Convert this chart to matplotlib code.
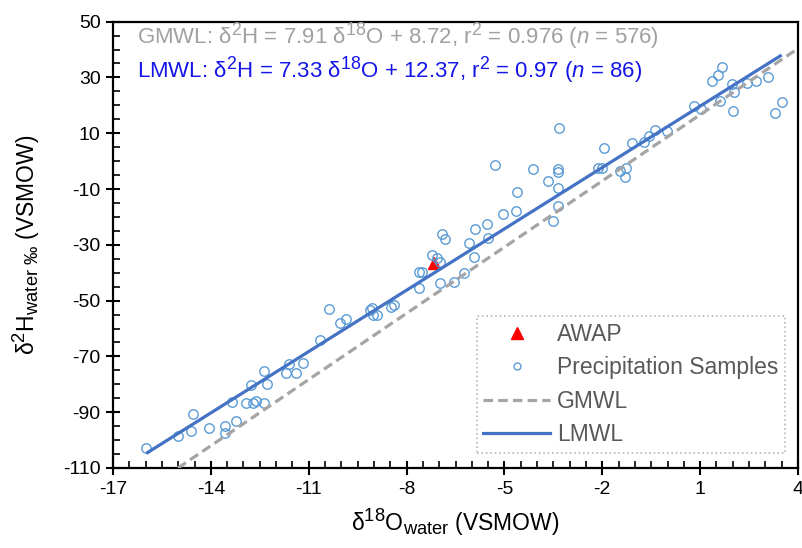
import matplotlib
matplotlib.use('Agg')
import matplotlib.pyplot as plt
import matplotlib._mathtext as _mt
from matplotlib.lines import Line2D
from matplotlib.ticker import MultipleLocator, FixedLocator
import numpy as np

# ---------------- data ----------------
precip_d18O = [-15.98, -15.01, -14.60, -14.55, -14.06, -13.56, -13.56, -13.22, -13.34, -12.91,
               -12.70, -12.62, -12.38, -12.78, -12.38, -12.28, -11.70, -11.60, -11.40, -11.17,
               -10.64, -10.38, -10.04, -9.86, -9.11, -9.06, -9.02, -8.92, -8.48, -8.40,
               -7.61, -6.97, -6.55, -7.61, -7.52, -7.21, -7.07, -6.99, -6.92, -6.83,
               -6.24, -6.10, -5.93, -5.89, -5.54, -5.50, -5.29, -5.05, -4.63, -4.60,
               -4.11, -3.66, -3.37, -3.37, -3.37, -3.37, -3.52, -3.34, -2.12, -2.02,
               -1.94, -1.46, -1.27, -1.29, -1.08, -0.73, -0.57, -0.38, -0.02, 0.80,
               1.03, 1.61, 2.02, 1.37, 1.54, 1.66, 1.99, 2.04, 2.44, 2.71,
               3.07, 3.28, 3.50]
precip_d2H = [-102.7, -98.4, -96.6, -90.8, -95.8, -94.8, -97.3, -93.2, -86.5, -86.8,
              -86.8, -85.9, -86.8, -80.3, -75.4, -79.9, -76.1, -72.7, -76.1, -72.2,
              -64.2, -53.0, -58.1, -56.6, -53.4, -52.7, -55.2, -55.2, -52.2, -51.4,
              -45.6, -43.8, -43.5, -39.9, -39.9, -33.7, -34.8, -36.3, -26.3, -27.9,
              -40.2, -29.2, -34.5, -24.4, -22.7, -27.6, -1.5, -19.1, -17.8, -11.0,
              -2.8, -7.2, -3.0, -3.9, -9.7, -16.2, -21.5, 12.0, -2.4, -2.4,
              4.6, -3.5, -2.3, -5.6, 6.4, 6.7, 9.1, 11.3, 10.7, 19.7,
              18.6, 21.5, 18.1, 28.7, 30.9, 33.8, 27.5, 24.9, 27.9, 28.8,
              30.0, 17.2, 21.2]
awap_d18O = [-7.16]
awap_d2H = [-36.4]

gmwl_slope, gmwl_intercept = 7.91, 8.72
lmwl_slope, lmwl_intercept = 7.33, 12.37

x_ticks = [-17, -14, -11, -8, -5, -2, 1, 4]
y_ticks = [-110, -90, -70, -50, -30, -10, 10, 30, 50]

legend_labels = ['AWAP', 'Precipitation Samples', 'GMWL', 'LMWL']
gmwl_text = r'GMWL: δ$^{2}$H = 7.91 δ$^{18}$O + 8.72, r$^{2}$ = 0.976 ($n$ = 576)'
lmwl_text = r'LMWL: δ$^{2}$H = 7.33 δ$^{18}$O + 12.37, r$^{2}$ = 0.97 ($n$ = 86)'

# ---------------- style ----------------
_mt.SHRINK_FACTOR = 0.8  # larger super/subscripts as in the reference
plt.rcParams['font.family'] = ['Liberation Sans', 'DejaVu Sans']
plt.rcParams['mathtext.fontset'] = 'custom'
plt.rcParams['mathtext.rm'] = 'Liberation Sans'
plt.rcParams['mathtext.it'] = 'Liberation Sans:italic'
plt.rcParams['mathtext.bf'] = 'Liberation Sans:bold'
plt.rcParams['axes.unicode_minus'] = False

fig = plt.figure(figsize=(8.02, 5.48), dpi=100)
W, H = 802, 548
left, right, top, bottom = 113, 798, 21.6, 468
ax = fig.add_axes([left / W, 1 - bottom / H, (right - left) / W, (bottom - top) / H])

blue_pts = '#5B9BD5'
blue_line = '#4472C4'
gray_line = '#A5A5A5'

ax.plot(awap_d18O, awap_d2H, linestyle='none', marker='^', markersize=9,
        color='#FF0000', zorder=3)
ax.plot(precip_d18O, precip_d2H, linestyle='none', marker='o', markersize=6.8,
        markerfacecolor='none', markeredgecolor=blue_pts, markeredgewidth=1.0, zorder=4)

gx = np.array([(-110 - gmwl_intercept) / gmwl_slope, 4.0])
ax.plot(gx, gmwl_slope * gx + gmwl_intercept, linestyle=(0, (3, 1.6)), color=gray_line,
        linewidth=2.3, zorder=5)
lx = np.array([min(precip_d18O), max(precip_d18O)])
ax.plot(lx, lmwl_slope * lx + lmwl_intercept, linestyle='-', color=blue_line,
        linewidth=2.3, zorder=6, solid_capstyle='butt')

ax.set_xlim(-17, 4)
ax.set_ylim(-110, 50)
ax.xaxis.set_major_locator(FixedLocator(x_ticks))
ax.yaxis.set_major_locator(FixedLocator(y_ticks))
ax.xaxis.set_minor_locator(MultipleLocator(0.5))
ax.yaxis.set_minor_locator(MultipleLocator(5))
ax.tick_params(which='major', direction='inout', length=10, width=1.5, labelsize=14,
               colors='black', pad=4)
ax.tick_params(which='minor', direction='in', length=5, width=1.2)
ax.tick_params(top=False, right=False, which='both')
for s in ax.spines.values():
    s.set_linewidth(1.6)
    s.set_color('black')

ax.set_xlabel(r'δ$^{18}$O$_{\mathrm{water}}$ (VSMOW)', fontsize=16.5)
ax.set_ylabel(r'δ$^{2}$H$_{\mathrm{water\ ‰}}$ (VSMOW)', fontsize=16.5)
ax.xaxis.set_label_coords(0.5, -0.085)
ax.yaxis.set_label_coords(-0.104, 0.5)

ax.text(0.035, 0.966, gmwl_text, transform=ax.transAxes, fontsize=16, color='#A0A0A0',
        va='center', ha='left')
ax.text(0.035, 0.891, lmwl_text, transform=ax.transAxes, fontsize=16, color='#1515E8',
        va='center', ha='left')

handles = [
    Line2D([], [], linestyle='none', marker='^', markersize=9, color='#FF0000'),
    Line2D([], [], linestyle='none', marker='o', markersize=5, markerfacecolor='none',
           markeredgecolor=blue_pts, markeredgewidth=1.0),
    Line2D([], [], linestyle=(0, (3, 1.6)), color=gray_line, linewidth=2.3),
    Line2D([], [], linestyle='-', color=blue_line, linewidth=2.3),
]
leg = ax.legend(handles, legend_labels, loc='lower right',
                bbox_to_anchor=(0.981, 0.034), fontsize=16.5, labelcolor='#595959',
                frameon=True, fancybox=False, borderpad=0.3, handlelength=2.9,
                handletextpad=0.3, labelspacing=0.45, borderaxespad=0)
fr = leg.get_frame()
fr.set_linestyle(':')
fr.set_edgecolor('#A6A6A6')
fr.set_linewidth(1.2)

fig.savefig('out.png', dpi=100)
